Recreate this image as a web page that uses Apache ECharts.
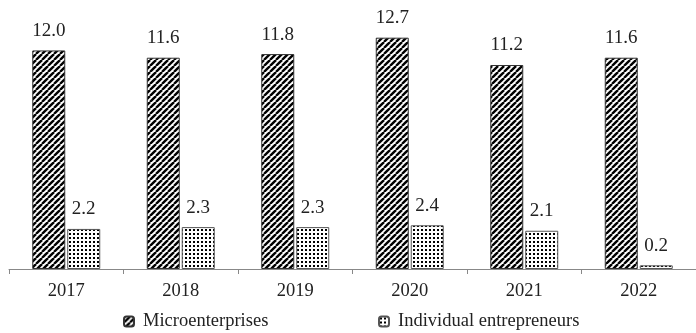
<!DOCTYPE html>
<html>
<head>
<meta charset="utf-8">
<script src="https://cdn.jsdelivr.net/npm/echarts@6/dist/echarts.min.js"></script>
<style>
  html, body { margin: 0; padding: 0; background: #fff; }
  #chart { width: 696px; height: 333px; }
</style>
</head>
<body>
<div id="chart"></div>
<script>
const years = ["2017", "2018", "2019", "2020", "2021", "2022"];
const microValues = [12.0, 11.6, 11.8, 12.7, 11.2, 11.6];
const individualValues = [2.2, 2.3, 2.3, 2.4, 2.1, 0.2];

const serif = "'Liberation Serif', 'Times New Roman', serif";

// diagonal stripes "///"
function stripePattern() {
  const size = 6;
  const c = document.createElement("canvas");
  c.width = size;
  c.height = size;
  const ctx = c.getContext("2d");
  ctx.fillStyle = "#fff";
  ctx.fillRect(0, 0, size, size);
  ctx.strokeStyle = "#000";
  ctx.lineWidth = 2.4;
  for (let k = -1; k <= 1; k++) {
    ctx.beginPath();
    ctx.moveTo(k * size, size);
    ctx.lineTo(k * size + size, 0);
    ctx.stroke();
  }
  return c;
}

// small dots grid
function dotPattern() {
  const c = document.createElement("canvas");
  c.width = 4;
  c.height = 4;
  const ctx = c.getContext("2d");
  ctx.fillStyle = "#fff";
  ctx.fillRect(0, 0, 4, 4);
  ctx.fillStyle = "#000";
  ctx.fillRect(1, 1, 2, 2);
  return c;
}

const chart = echarts.init(document.getElementById("chart"), null, { renderer: "canvas" });

const labelStyle = {
  show: true,
  position: "top",
  distance: 10,
  fontFamily: serif,
  fontSize: 19,
  color: "#222",
  formatter: p => p.value.toFixed(1)
};

const legendText = { fontFamily: serif, fontSize: 18.5, color: "#222", padding: [0, 0, 0, 4] };

const option = {
  animation: false,
  grid: { left: 9, top: 14, width: 696, bottom: 64 },
  legend: [
    {
      top: 312,
      left: 123,
      padding: 0,
      itemWidth: 10,
      itemHeight: 10,
      textStyle: legendText,
      data: ["Microenterprises"]
    },
    {
      top: 312,
      left: 378,
      padding: 0,
      itemWidth: 10,
      itemHeight: 10,
      textStyle: legendText,
      data: ["Individual entrepreneurs"]
    }
  ],
  xAxis: {
    type: "category",
    data: years,
    axisLine: { lineStyle: { color: "#888", width: 1 } },
    axisTick: { show: true, length: 5, lineStyle: { color: "#888" } },
    axisLabel: { margin: 13, fontFamily: serif, fontSize: 18.5, color: "#222" }
  },
  yAxis: {
    type: "value",
    min: 0,
    max: 14,
    show: false,
    splitLine: { show: false }
  },
  series: [
    {
      name: "Microenterprises",
      type: "bar",
      data: microValues,
      barWidth: 33,
      barGap: "6%",
      itemStyle: {
        color: { image: stripePattern(), repeat: "repeat" },
        borderColor: "#333",
        borderWidth: 1
      },
      label: labelStyle
    },
    {
      name: "Individual entrepreneurs",
      type: "bar",
      data: individualValues,
      barWidth: 33,
      itemStyle: {
        color: { image: dotPattern(), repeat: "repeat" },
        borderColor: "#555",
        borderWidth: 1
      },
      label: labelStyle
    }
  ]
};

chart.setOption(option);
</script>
</body>
</html>
